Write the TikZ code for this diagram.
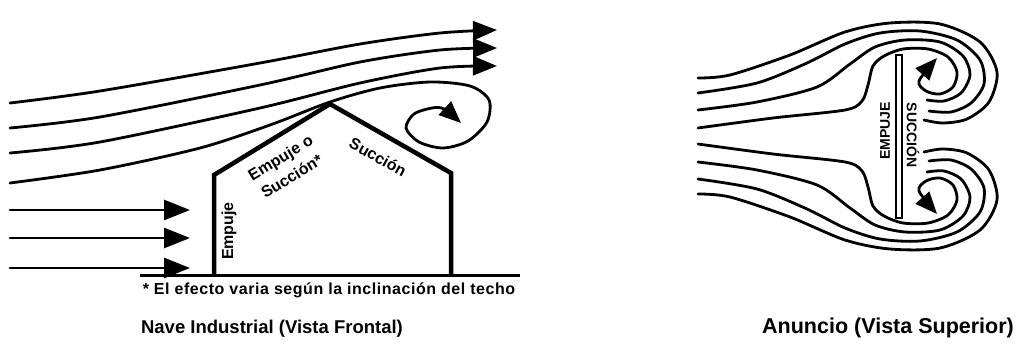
\documentclass[tikz,border=0pt]{standalone}
\usepackage{fontspec}
\setmainfont{Liberation Sans}
\usetikzlibrary{arrows.meta}
\begin{document}
\begin{tikzpicture}[x=1pt,y=-1pt,
  flow/.style={line width=2.8pt, line cap=round, line join=round},
  bigtip/.style={-{Triangle[length=24pt,width=19pt]}},
  eddytip/.style={-{Triangle[length=22pt,width=18pt]}},
  walltext/.style={font=\bfseries\fontsize{16}{22}\selectfont, inner sep=0pt},
  signtext/.style={font=\bfseries\fontsize{14}{14}\selectfont, inner sep=0pt},
  notetext/.style={font=\bfseries\fontsize{16}{16}\selectfont\addfontfeatures{LetterSpace=3.4}, inner sep=0pt},
  titletext/.style={font=\bfseries\fontsize{18.5}{19}\selectfont, inner sep=0pt}]
\useasboundingbox (0,0) rectangle (1027,345);

% ---------- Nave industrial: wind over the roof ----------
\draw[flow,bigtip] plot[smooth] coordinates {(10,103) (100,91) (260,63) (360,44) (440,33) (497,30)};
\draw[flow,bigtip] plot[smooth] coordinates {(10,128) (100,117) (260,85) (360,62) (440,50) (497,48)};
\draw[flow,bigtip] plot[smooth] coordinates {(10,153) (100,142) (260,108) (360,83) (440,68) (497,66)};
% streamline grazing the ridge and rolling into the eddy behind it
\draw[flow,eddytip] plot[smooth] coordinates {(10,183) (100,170) (200,148) (270,125) (330,102)
  (380,88) (430,82) (470,86) (489,100) (487,122) (468,141) (443,148) (419,142) (406,128)
  (414,114) (432,108) (444,109) (461,123)};

% wind against the windward wall
\draw[flow,-{Triangle[length=26pt,width=20pt]}] (10,210) -- (190,210);
\draw[flow,-{Triangle[length=26pt,width=20pt]}] (10,238) -- (190,238);
\draw[flow,-{Triangle[length=26pt,width=20pt]}] (10,268) -- (190,268);

% ground and building outline
\draw[line width=3pt] (140,275) -- (520,275);
\coordinate (wl) at (214,275);
\coordinate (el) at (214,175);
\coordinate (ridge) at (330,104);
\coordinate (er) at (451,173);
\coordinate (wr) at (451,275);
\draw[line width=4.5pt, line join=miter] (wl) -- (el) -- (ridge) -- (er) -- (wr);

\node[walltext, rotate=90] (lEmpuje) at (229,231) {Empuje};
\node[walltext, rotate=31, align=center] (lRoofW) at (286,167) {Empuje o\\Succión*};
\node[walltext, rotate=-29] (lRoofL) at (378,157) {Succión};

\node[notetext] (nota) at (329,290) {* El efecto varia según la inclinación del techo};
\node[titletext] (tNave) at (272,329) {Nave Industrial (Vista Frontal)};

% ---------- Anuncio: plan view ----------
\draw[line width=2pt] (896,55) rectangle (902,218);
\node[signtext, rotate=90] (sEmpuje) at (885,131) {EMPUJE};
\node[signtext, rotate=-90] (sSuccion) at (913,135) {SUCCIÓN};

% upper half of the flow; the lower half is its mirror image
\foreach \yflip/\ysh in {1/0, -1/272} {
\begin{scope}[shift={(0,\ysh)}, yscale=\yflip]
\draw[flow] plot[smooth] coordinates {(698,78) (730,75) (790,55) (845,32) (890,23) (940,24)
  (980,42) (997,72) (989,102) (967,119) (943,123) (924,120)};
\draw[flow] plot[smooth] coordinates {(698,93) (757,83) (807,63) (845,44) (880,33) (920,31)
  (957,40) (980,60) (984,84) (971,103) (951,112) (929,111)};
\draw[flow] plot[smooth] coordinates {(698,110) (757,102) (817,87) (850,64) (875,47) (905,40)
  (940,42) (963,56) (970,75) (961,93) (944,101) (927,100)};
\draw[flow,eddytip] plot[smooth] coordinates {(698,128) (773,118) (845,110) (862,101) (868,85)
  (873,66) (884,56) (903,49) (928,49) (948,57) (957,72) (953,87) (940,94) (926,91) (919,81) (937,58)};
\end{scope}
}

\node[titletext, font=\bfseries\fontsize{21.5}{22}\selectfont] (tAnuncio) at (888,328) {Anuncio (Vista Superior)};
\end{tikzpicture}
\end{document}
